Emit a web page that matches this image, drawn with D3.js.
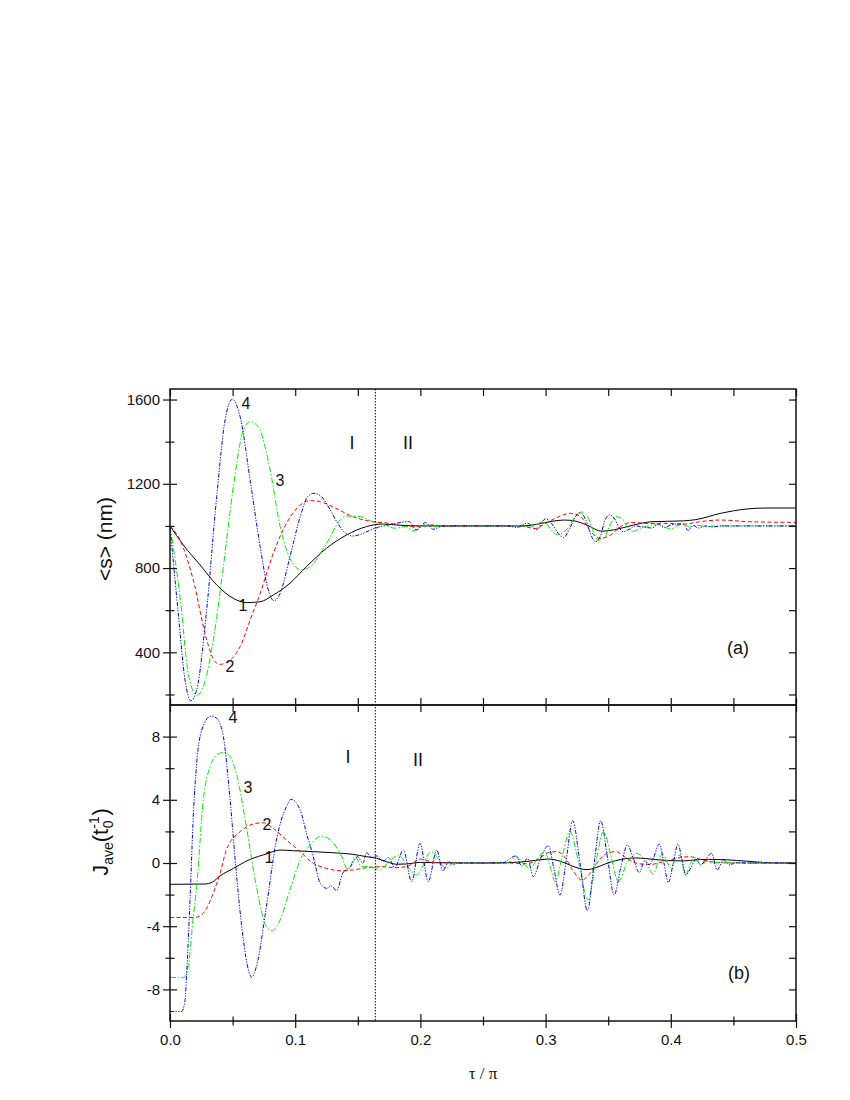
<!DOCTYPE html>
<html>

<head>
  <script src="https://d3js.org/d3.v7.min.js"></script>
  <meta charset='utf-8'>
  <title></title>
  <style>
    body {
      margin: 0;
      background-color: #fff;
    }

    .lbl {
      font-family: 'Liberation Sans', Arial, sans-serif;
      fill: #111;
    }
  </style>
</head>

<body>
  <div id='chart'></div>
  <script>
    // tick values
    var tauTicks = [0, 0.1, 0.2, 0.3, 0.4, 0.5];
    var tauAll = [0, 0.05, 0.1, 0.15, 0.2, 0.25, 0.3, 0.35, 0.4, 0.45, 0.5];
    var tauMinor = [0.05, 0.15, 0.25, 0.35, 0.45];
    var sTicks = [400, 800, 1200, 1600];
    var sMinor = [200, 600, 1000, 1400];
    var jTicks = [-8, -4, 0, 4, 8];
    var jMinor = [-6, -2, 2, 6];
    var boundaryTau = 0.164;

    // panel (a): <s> vs tau/pi, [tau, nm]
    var s1 = [[0, 1000], [0.0106, 910], [0.024, 815], [0.0373, 720], [0.0506, 656], [0.0612, 636], [0.0719, 640], [0.0825, 672], [0.0958, 728], [0.109, 807], [0.125, 894], [0.141, 957], [0.157, 997], [0.17, 1009], [0.184, 1003], [0.2, 1000], [0.28, 1000], [0.295, 1010], [0.305, 1022], [0.315, 1028], [0.323, 1024], [0.333, 1004], [0.345, 975], [0.355, 982], [0.37, 1004], [0.385, 1020], [0.41, 1024], [0.42, 1030], [0.44, 1060], [0.46, 1080], [0.475, 1085], [0.5, 1085]];
    var s2 = [[0, 1000], [0.008, 933], [0.0186, 743], [0.0293, 459], [0.036, 356], [0.040, 343], [0.0466, 356], [0.056, 427], [0.064, 553], [0.072, 680], [0.0825, 870], [0.093, 1012], [0.104, 1099], [0.112, 1120], [0.12, 1115], [0.13, 1091], [0.146, 1044], [0.162, 1020], [0.176, 1012], [0.186, 1000], [0.198, 997], [0.21, 1005], [0.22, 997], [0.23, 1000], [0.28, 1000], [0.2855, 994], [0.2915, 988], [0.298, 1005], [0.309, 1040], [0.32, 1060], [0.328, 1044], [0.336, 973], [0.3435, 941], [0.352, 957], [0.36, 997], [0.368, 1016], [0.383, 1012], [0.397, 1012], [0.41, 1008], [0.423, 1020], [0.44, 1028], [0.463, 1020], [0.5, 1017]];
    var s3 = [[0, 1000], [0.008, 664], [0.0146, 300], [0.0213, 197], [0.0266, 237], [0.0346, 459], [0.0426, 807], [0.0506, 1186], [0.0586, 1455], [0.0639, 1495], [0.0705, 1471], [0.080, 1265], [0.088, 997], [0.0958, 846], [0.105, 791], [0.112, 807], [0.125, 917], [0.136, 1028], [0.142, 1047], [0.152, 1044], [0.162, 1020], [0.170, 1008], [0.18, 989], [0.188, 997], [0.195, 978], [0.203, 1005], [0.21, 997], [0.218, 1000], [0.28, 1000], [0.288, 995], [0.298, 1020], [0.3088, 960], [0.318, 990], [0.323, 1040], [0.329, 1066], [0.334, 1040], [0.338, 975], [0.342, 932], [0.347, 945], [0.352, 1010], [0.356, 1044], [0.361, 1035], [0.366, 990], [0.370, 975], [0.376, 990], [0.382, 1000], [0.39, 1010], [0.395, 995], [0.40, 985], [0.405, 1000], [0.41, 1008], [0.415, 995], [0.42, 1003], [0.43, 998], [0.44, 1000], [0.5, 1000]];
    var s4 = [[0, 1000], [0.0066, 585], [0.012, 269], [0.0165, 170], [0.0213, 221], [0.029, 585], [0.0373, 1139], [0.044, 1503], [0.0498, 1601], [0.056, 1519], [0.064, 1218], [0.072, 902], [0.0785, 696], [0.083, 645], [0.088, 680], [0.0958, 854], [0.104, 1044], [0.110, 1139], [0.115, 1155], [0.121, 1139], [0.128, 1076], [0.134, 1012], [0.141, 962], [0.146, 952], [0.153, 962], [0.160, 980], [0.166, 993], [0.173, 1003], [0.18, 1012], [0.1907, 1021], [0.197, 981], [0.204, 1016], [0.2104, 984], [0.218, 1000], [0.27, 1000], [0.277, 993], [0.2855, 1013], [0.2925, 982], [0.300, 1034], [0.305, 1010], [0.310, 965], [0.3145, 945], [0.319, 985], [0.324, 1045], [0.328, 1062], [0.332, 1030], [0.336, 960], [0.340, 925], [0.344, 955], [0.347, 1020], [0.351, 1052], [0.355, 1035], [0.359, 990], [0.362, 972], [0.367, 985], [0.372, 1000], [0.378, 995], [0.385, 990], [0.39, 1008], [0.395, 992], [0.40, 1005], [0.41, 1010], [0.414, 978], [0.418, 1002], [0.422, 990], [0.428, 1000], [0.433, 995], [0.44, 1000], [0.5, 1000]];

    // panel (b): J_ave vs tau/pi
    var j1 = [[0, -1.35], [0.028, -1.33], [0.034, -1.2], [0.04, -0.82], [0.0506, -0.34], [0.064, 0.23], [0.077, 0.57], [0.088, 0.82], [0.0985, 0.78], [0.114, 0.72], [0.13, 0.65], [0.146, 0.55], [0.157, 0.40], [0.165, 0.30], [0.173, 0.08], [0.181, -0.08], [0.189, -0.06], [0.2, 0.04], [0.21, 0.02], [0.25, 0], [0.27, 0.02], [0.285, 0.1], [0.295, 0.2], [0.303, 0.25], [0.312, 0.1], [0.32, -0.15], [0.327, -0.35], [0.333, -0.42], [0.34, -0.3], [0.348, -0.05], [0.356, 0.15], [0.365, 0.28], [0.372, 0.32], [0.38, 0.28], [0.39, 0.2], [0.40, 0.15], [0.41, 0.13], [0.42, 0.2], [0.43, 0.23], [0.445, 0.2], [0.46, 0.12], [0.475, 0.03], [0.49, 0], [0.5, 0]];
    var j2 = [[0, -3.45], [0.02, -3.45], [0.024, -3.35], [0.029, -2.9], [0.0346, -1.9], [0.04, -0.65], [0.045, 0.82], [0.056, 1.98], [0.0666, 2.47], [0.0745, 2.55], [0.0825, 2.19], [0.093, 1.46], [0.104, 0.72], [0.1145, -0.02], [0.125, -0.34], [0.136, -0.49], [0.146, -0.44], [0.157, -0.30], [0.17, -0.23], [0.18, -0.3], [0.19, -0.2], [0.2, 0.25], [0.21, 0.05], [0.22, 0], [0.27, 0], [0.285, -0.05], [0.295, 0.3], [0.302, 0.65], [0.309, 0.72], [0.316, 0.3], [0.322, -0.5], [0.329, -1.08], [0.336, -0.6], [0.343, 0.2], [0.35, 0.65], [0.356, 0.72], [0.363, 0.4], [0.372, 0], [0.383, -0.1], [0.395, 0.1], [0.405, 0.3], [0.415, 0.4], [0.425, 0.2], [0.435, 0.05], [0.45, 0], [0.5, 0]];
    var j3 = [[0, -7.25], [0.011, -7.25], [0.0146, -6.56], [0.0186, -3.4], [0.0213, -1.5], [0.0266, 3.99], [0.032, 6.1], [0.0373, 6.84], [0.0426, 7.0], [0.048, 6.73], [0.053, 5.67], [0.061, 2.3], [0.069, -1.5], [0.077, -4.03], [0.082, -4.3], [0.088, -3.6], [0.0958, -1.7], [0.104, 0.19], [0.112, 1.14], [0.121, 1.71], [0.128, 1.46], [0.136, 0.61], [0.1424, -0.44], [0.148, 0.4], [0.153, -0.23], [0.16, -0.23], [0.168, -0.44], [0.175, 0.1], [0.1826, 0.5], [0.189, -0.13], [0.197, -0.76], [0.2085, 0.72], [0.221, -0.34], [0.226, 0], [0.265, 0], [0.272, 0.1], [0.2765, 0.4], [0.283, -0.1], [0.2876, -0.35], [0.2935, 0.3], [0.2995, 0.72], [0.3035, -0.2], [0.3077, -1.18], [0.3135, 0.5], [0.3193, 2.0], [0.3265, 0], [0.3338, -2.34], [0.340, 0], [0.3463, 2.0], [0.352, 0.5], [0.3581, -1.18], [0.365, 0], [0.373, 0.61], [0.38, 0.1], [0.386, -0.7], [0.3905, 0.2], [0.3935, 0.55], [0.397, 0.1], [0.4, -0.3], [0.404, 0.3], [0.4075, 0.5], [0.4115, -0.76], [0.416, 0], [0.42, 0.35], [0.424, -0.2], [0.428, 0.1], [0.433, 0], [0.44, 0.05], [0.45, 0], [0.5, 0]];
    var j4 = [[0, -9.4], [0.0093, -9.4], [0.012, -8.7], [0.0133, -7.0], [0.016, -2.3], [0.0186, 2.95], [0.0213, 6.3], [0.0253, 8.4], [0.0327, 9.3], [0.0373, 9.16], [0.0426, 8.0], [0.048, 3.99], [0.053, -0.65], [0.0586, -4.87], [0.0626, -6.77], [0.0652, -7.24], [0.069, -6.56], [0.077, -2.76], [0.085, 1.46], [0.093, 3.57], [0.0966, 4.03], [0.104, 3.35], [0.109, 1.88], [0.1145, 0.4], [0.12, -1.29], [0.125, -1.6], [0.129, -1.45], [0.133, -1.75], [0.138, -0.65], [0.144, -0.23], [0.15, 0.4], [0.154, -0.02], [0.157, 0.65], [0.161, 0.35], [0.165, 0.45], [0.170, 0.1], [0.1745, 0.35], [0.1795, -0.3], [0.1864, 0.82], [0.193, -1.18], [0.1997, 1.24], [0.2063, -1.18], [0.213, 0.82], [0.218, -0.5], [0.2225, 0.1], [0.226, -0.1], [0.23, 0], [0.265, 0], [0.2764, 0.45], [0.281, -0.2], [0.2855, 0.3], [0.2902, -0.86], [0.296, 0.3], [0.3022, 1.1], [0.3065, -0.3], [0.3115, -2.03], [0.3165, 0.2], [0.3216, 2.68], [0.3275, 0], [0.3334, -3.02], [0.3388, 0], [0.344, 2.68], [0.3495, 0.3], [0.3547, -2.03], [0.36, -0.3], [0.3653, 1.14], [0.37, 0.3], [0.3749, -0.61], [0.379, 0.1], [0.383, -0.1], [0.386, 0.3], [0.3908, 1.2], [0.3945, 0], [0.398, -1.24], [0.402, 0], [0.4057, 1.2], [0.409, 0.2], [0.412, -0.76], [0.416, -0.3], [0.42, 0.2], [0.424, -0.1], [0.4285, 0.3], [0.4326, 0.61], [0.437, -0.44], [0.442, 0.19], [0.4473, -0.13], [0.452, 0.05], [0.46, 0], [0.5, 0]];

    // text placed in data coordinates [tau, value, text, size]
    var notesA = [[0.0607, 1584, '4', 16], [0.0879, 1218, '3', 16], [0.0583, 625, '1', 16], [0.0479, 335, '2', 16], [0.1454, 1398, 'I', 18], [0.1901, 1398, 'II', 18], [0.4537, 425, '(a)', 18]];
    var notesB = [[0.0503, 9.24, '4', 16], [0.0623, 4.81, '3', 16], [0.0775, 2.47, '2', 16], [0.0791, 0.38, '1', 16], [0.1422, 6.71, 'I', 18], [0.1981, 6.52, 'II', 18], [0.4545, -6.96, '(b)', 18]];

    var width = 850,
      height = 1100;
    var left = 170,
      right = 796,
      topA = 389,
      mid = 705,
      botB = 1021;

    var svg = d3.select('#chart')
      .append('svg')
      .attr('width', width)
      .attr('height', height);

    svg.append('rect').attr('width', width).attr('height', height).attr('fill', '#fff');

    var x = d3.scaleLinear().domain([0, 0.5]).range([left, right]);
    var ya = d3.scaleLinear().domain([150, 1650]).range([mid, topA]);
    var yb = d3.scaleLinear().domain([-10, 10]).range([botB, mid]);

    var styles = [
      { color: '#000000', dash: null },
      { color: '#ff0000', dash: '4,2.5' },
      { color: '#00ee00', dash: '6,2,1.5,2' },
      { color: '#0000ff', dash: '4,1.5,1.2,1.5,1.2,1.5' }
    ];

    var defs = svg.append('defs');
    defs.append('clipPath').attr('id', 'clipA').append('rect')
      .attr('x', left).attr('y', topA).attr('width', right - left).attr('height', mid - topA);
    defs.append('clipPath').attr('id', 'clipB').append('rect')
      .attr('x', left).attr('y', mid).attr('width', right - left).attr('height', botB - mid);

    function drawCurves(series, y, clip) {
      var line = d3.line()
        .x(function(d) { return x(d[0]); })
        .y(function(d) { return y(d[1]); })
        .curve(d3.curveMonotoneX);

      svg.append('g')
        .attr('clip-path', 'url(#' + clip + ')')
        .selectAll('path')
        .data(series)
        .enter()
        .append('path')
        .attr('d', line)
        .attr('fill', 'none')
        .attr('stroke', function(d, i) { return styles[i].color; })
        .attr('stroke-width', 1)
        .attr('stroke-dasharray', function(d, i) { return styles[i].dash; });
    }

    drawCurves([s1, s2, s3, s4], ya, 'clipA');
    drawCurves([j1, j2, j3, j4], yb, 'clipB');

    // vertical dotted separator between regions I and II
    svg.append('line')
      .attr('x1', x(boundaryTau)).attr('x2', x(boundaryTau))
      .attr('y1', topA).attr('y2', botB)
      .attr('stroke', '#000')
      .attr('stroke-width', 1)
      .attr('stroke-dasharray', '1.5,1.5');

    function styleAxis(g) {
      g.select('.domain').remove();
      g.selectAll('.tick line').attr('stroke', '#111').attr('stroke-width', 1.2);
      g.attr('font-family', "'Liberation Sans', Arial, sans-serif")
        .attr('font-size', 15)
        .selectAll('text').attr('fill', '#111');
    }

    var plain = function(d) { return String(d); };

    // bottom axis with crossing ticks
    var gx = svg.append('g')
      .attr('transform', 'translate(0,' + botB + ')')
      .call(d3.axisBottom(x).tickValues(tauTicks).tickFormat(d3.format('.1f')).tickSize(7).tickPadding(6))
      .call(styleAxis);
    gx.selectAll('.tick line').attr('y1', -7);

    var gxm = svg.append('g')
      .attr('transform', 'translate(0,' + botB + ')')
      .call(d3.axisBottom(x).tickValues(tauMinor).tickFormat('').tickSize(4.5))
      .call(styleAxis);
    gxm.selectAll('.tick line').attr('y1', -4.5);

    // inward ticks on top of (a) and on the shared border
    svg.append('g')
      .attr('transform', 'translate(0,' + topA + ')')
      .call(d3.axisBottom(x).tickValues(tauAll).tickFormat('').tickSize(7))
      .call(styleAxis);
    svg.append('g')
      .attr('transform', 'translate(0,' + mid + ')')
      .call(d3.axisTop(x).tickValues(tauAll).tickFormat('').tickSize(7))
      .call(styleAxis);
    svg.append('g')
      .attr('transform', 'translate(0,' + mid + ')')
      .call(d3.axisBottom(x).tickValues(tauAll).tickFormat('').tickSize(7))
      .call(styleAxis);

    function leftAxis(y, major, minor) {
      var g = svg.append('g')
        .attr('transform', 'translate(' + left + ',0)')
        .call(d3.axisLeft(y).tickValues(major).tickFormat(plain).tickSize(7).tickPadding(3))
        .call(styleAxis);
      g.selectAll('.tick line').attr('x1', 7);
      var gm = svg.append('g')
        .attr('transform', 'translate(' + left + ',0)')
        .call(d3.axisLeft(y).tickValues(minor).tickFormat('').tickSize(4.5))
        .call(styleAxis);
      gm.selectAll('.tick line').attr('x1', 4.5);
      svg.append('g')
        .attr('transform', 'translate(' + right + ',0)')
        .call(d3.axisLeft(y).tickValues(major.concat(minor)).tickFormat('').tickSize(7))
        .call(styleAxis);
    }

    leftAxis(ya, sTicks, sMinor);
    leftAxis(yb, jTicks, jMinor);

    // frames
    [[topA, mid], [mid, botB]].forEach(function(p) {
      svg.append('rect')
        .attr('x', left).attr('y', p[0])
        .attr('width', right - left).attr('height', p[1] - p[0])
        .attr('fill', 'none')
        .attr('stroke', '#111')
        .attr('stroke-width', 1.5);
    });

    function notes(list, y) {
      svg.append('g')
        .selectAll('text')
        .data(list)
        .enter()
        .append('text')
        .attr('class', 'lbl')
        .attr('x', function(d) { return x(d[0]); })
        .attr('y', function(d) { return y(d[1]); })
        .attr('dy', '0.36em')
        .attr('text-anchor', 'middle')
        .attr('font-size', function(d) { return d[3]; })
        .text(function(d) { return d[2]; });
    }

    notes(notesA, ya);
    notes(notesB, yb);

    // axis titles
    svg.append('text')
      .attr('class', 'lbl')
      .attr('transform', 'translate(112,' + ((topA + mid) / 2 - 8) + ') rotate(-90)')
      .attr('text-anchor', 'middle')
      .attr('font-size', 21)
      .text('<s> (nm)');

    var jt = svg.append('text')
      .attr('class', 'lbl')
      .attr('transform', 'translate(108,842) rotate(-90)')
      .attr('text-anchor', 'middle')
      .attr('font-size', 22);
    jt.append('tspan').text('J');
    jt.append('tspan').attr('font-size', 14).attr('dy', 5).text('ave');
    jt.append('tspan').attr('dy', -5).text('(t');
    jt.append('tspan').attr('font-size', 14).attr('dy', -9).text('-1');
    jt.append('tspan').attr('font-size', 14).attr('dx', -12).attr('dy', 14).text('0');
    jt.append('tspan').attr('dy', -5).attr('dx', 5).text(')');

    svg.append('text')
      .attr('x', (left + right) / 2)
      .attr('y', 1079)
      .attr('text-anchor', 'middle')
      .attr('font-family', "'Liberation Serif', 'DejaVu Serif', serif")
      .attr('font-size', 17)
      .attr('fill', '#111')
      .text('\u03c4 / \u03c0');
  </script>
</body>

</html>
